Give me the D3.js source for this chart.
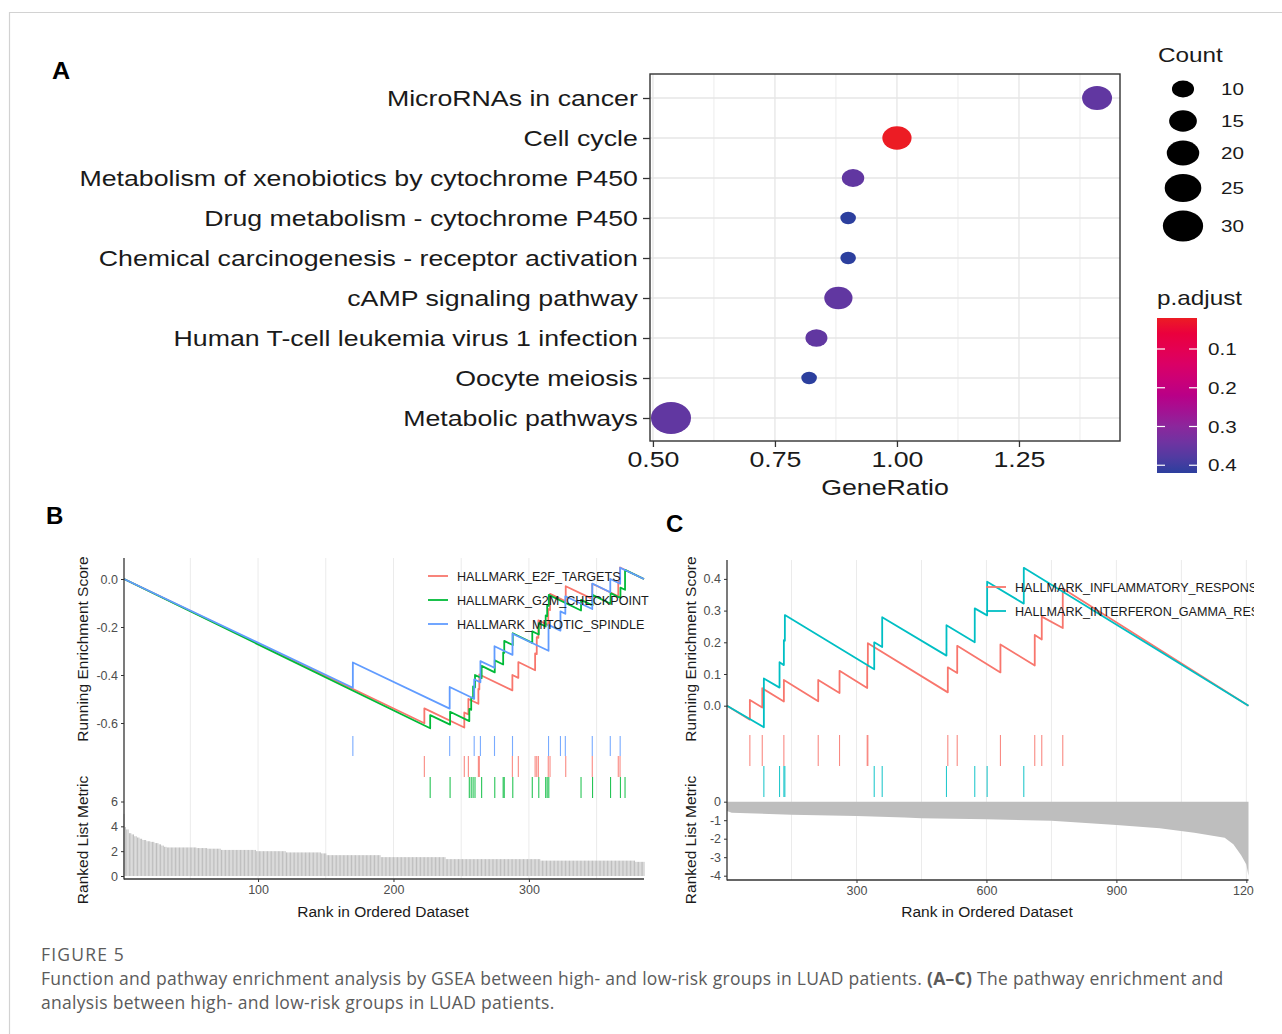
<!DOCTYPE html>
<html>
<head>
<meta charset="utf-8">
<script src="https://cdn.jsdelivr.net/npm/d3@7"></script>
<style>
body { margin: 0; background: #fff; }
svg text { font-family: "Liberation Sans", Arial, sans-serif; }
</style>
</head>
<body>
<svg id="fig" width="1282" height="1034"></svg>
<script>
// ---- panel A: dot plot ----
var pathways = ["MicroRNAs in cancer", "Cell cycle", "Metabolism of xenobiotics by cytochrome P450",
  "Drug metabolism - cytochrome P450", "Chemical carcinogenesis - receptor activation",
  "cAMP signaling pathway", "Human T-cell leukemia virus 1 infection", "Oocyte meiosis", "Metabolic pathways"]
var geneRatio = [1.41, 1.00, 0.91, 0.90, 0.90, 0.88, 0.835, 0.82, 0.537]
var geneCount = [18.5, 17.7, 11, 6, 6, 16.6, 10.6, 6, 32]
var pAdjust = [0.36, 0.02, 0.36, 0.42, 0.42, 0.36, 0.36, 0.42, 0.36]
var ratioTicks = [0.50, 0.75, 1.00, 1.25]
var countBreaks = [10, 15, 20, 25, 30]
var pTicks = [0.1, 0.2, 0.3, 0.4]

// ---- panel B: GSEA, 3 gene sets ----
var namesB = ["HALLMARK_E2F_TARGETS", "HALLMARK_G2M_CHECKPOINT", "HALLMARK_MITOTIC_SPINDLE"]
// ranked list metric, as [value, number of genes]
var rankedB = [[5.0,1],[3.95,1],[3.75,2],[3.45,2],[3.35,2],[3.2,2],[3.1,2],[3.0,2],[2.9,3],[2.8,3],
  [2.75,3],[2.65,3],[2.55,2],[2.45,2],[2.35,2],[2.3,22],[2.25,8],[2.2,10],[2.1,26],[2.0,22],
  [1.9,26],[1.82,4],[1.68,40],[1.52,48],[1.36,70],[1.24,70],[1.14,7]]
var hitsE2F = [222.8,252.3,255.3,262.7,263.4,287.8,292.2,304.6,305.8,307.0,314.3,315.6,327.2,346.8,366.0,367.3]
var hitsG2M = [227.1,241.8,256.0,257.4,258.8,260.2,265.1,274.8,281.0,281.8,288.1,302.5,307.3,312.4,313.5,314.7,338.5,347.0,360.3,367.6,371.0]
var hitsMIT = [170,241.5,259.6,264.2,274.6,287.9,314.5,323.3,326.9,346.8,360.1,367.4]
var esE2F = [[1,0],[222.8,-0.601],[222.8,-0.539],[252.3,-0.619],[252.3,-0.556],[255.3,-0.564],[255.3,-0.500],
  [262.7,-0.520],[262.7,-0.458],[263.4,-0.460],[263.4,-0.398],[287.8,-0.464],[287.8,-0.400],[292.2,-0.412],
  [292.2,-0.346],[304.6,-0.380],[304.6,-0.310],[305.8,-0.313],[305.8,-0.242],[307.0,-0.245],[307.0,-0.172],
  [314.3,-0.192],[314.3,-0.125],[315.6,-0.129],[315.6,-0.062],[327.2,-0.093],[327.2,-0.030],[346.8,-0.083],
  [346.8,-0.020],[366.0,-0.072],[366.0,-0.010],[367.3,-0.014],[367.3,0.048],[385,0]]
var esG2M = [[1,0],[227.1,-0.622],[227.1,-0.567],[241.8,-0.607],[241.8,-0.553],[256.0,-0.592],[256.0,-0.541],
  [257.4,-0.545],[257.4,-0.494],[258.8,-0.498],[258.8,-0.447],[260.2,-0.451],[260.2,-0.400],[265.1,-0.413],
  [265.1,-0.362],[274.8,-0.389],[274.8,-0.339],[281.0,-0.356],[281.0,-0.306],[281.8,-0.308],[281.8,-0.258],
  [288.1,-0.275],[288.1,-0.226],[302.5,-0.266],[302.5,-0.218],[307.3,-0.231],[307.3,-0.184],[312.4,-0.198],
  [312.4,-0.152],[313.5,-0.155],[313.5,-0.109],[314.7,-0.112],[314.7,-0.066],[338.5,-0.131],[338.5,-0.087],
  [347.0,-0.110],[347.0,-0.066],[360.3,-0.103],[360.3,-0.059],[367.6,-0.079],[367.6,-0.036],[371.0,-0.045],
  [371.0,0.038],[385,0]]
var esMIT = [[1,0],[170,-0.453],[170,-0.348],[241.5,-0.540],[241.5,-0.450],[259.6,-0.499],[259.6,-0.418],
  [264.2,-0.430],[264.2,-0.342],[274.6,-0.370],[274.6,-0.280],[287.9,-0.316],[287.9,-0.228],[314.5,-0.299],
  [314.5,-0.191],[323.3,-0.215],[323.3,-0.135],[326.9,-0.145],[326.9,-0.072],[346.8,-0.125],[346.8,-0.019],
  [360.1,-0.055],[360.1,0.0],[367.4,-0.020],[367.4,0.047],[385,0]]
var esTicksB = [0, -0.2, -0.4, -0.6]
var rankTicksB = [0, 2, 4, 6]
var xTicksB = [100, 200, 300]

// ---- panel C: GSEA, 2 gene sets ----
var namesC = ["HALLMARK_INFLAMMATORY_RESPONSE", "HALLMARK_INTERFERON_GAMMA_RESPONSE"]
var rankedC = [[1,-0.5],[12,-0.6],[150,-0.70],[300,-0.77],[411,-0.85],[450,-0.90],[600,-0.955],[750,-1.03],
  [900,-1.26],[1000,-1.44],[1080,-1.68],[1150,-1.95],[1170,-2.3],[1188,-2.9],[1200,-3.4],[1205,-4.0]]
var hitsINF = [53.8,82.4,132.3,211.6,260.8,324.7,326.2,510.8,532.5,632.3,711.5,727.7,776.2]
var hitsIFN = [86.1,122.3,132.3,134.6,340.9,359.3,507.7,573.0,601.6,686.2]
var esINF = [[1,0],[53.8,-0.044],[53.8,0.018],[82.4,-0.006],[82.4,0.055],[132.3,0.013],[132.3,0.081],
  [211.6,0.014],[211.6,0.081],[260.8,0.040],[260.8,0.110],[324.7,0.056],[324.7,0.125],[326.2,0.124],
  [326.2,0.197],[510.8,0.042],[510.8,0.121],[532.5,0.103],[532.5,0.189],[632.3,0.105],[632.3,0.193],
  [711.5,0.127],[711.5,0.223],[727.7,0.209],[727.7,0.281],[776.2,0.245],[776.2,0.370],[1205,0]]
var esIFN = [[1,0],[86.1,-0.068],[86.1,0.086],[122.3,0.057],[122.3,0.137],[132.3,0.128],[132.3,0.207],
  [134.6,0.205],[134.6,0.286],[340.9,0.115],[340.9,0.200],[359.3,0.185],[359.3,0.279],[507.7,0.158],
  [507.7,0.254],[573.0,0.200],[573.0,0.307],[601.6,0.285],[601.6,0.391],[686.2,0.322],[686.2,0.435],[1205,0]]
var esTicksC = [0, 0.1, 0.2, 0.3, 0.4]
var rankTicksC = [0, -1, -2, -3, -4]
var xTicksC = [300, 600, 900, 1200]

// plain hyphen for negatives, like the R output
function fmt(spec) {
  var f = d3.format(spec)
  return function(d){ return f(d).replace("\u2212", "-") }
}

var svg = d3.select("#fig")
svg.append("rect").attr("width", 1282).attr("height", 1034).attr("fill", "#fff")
svg.append("path").attr("d", "M9.5,1034V12.5H1282").attr("fill", "none").attr("stroke", "#d2d2d2").attr("stroke-width", 1.2)

// ================= panel A =================
var stretch = 1.215
var aTop = 74, aBot = 441, aLeft = 650, aRight = 1120
var ax = d3.scaleLinear().domain([0.494, 1.457]).range([aLeft, aRight])
var ay = d3.scalePoint().domain(pathways).range([98, 418])
var pCol = d3.scaleLinear().domain([0.02, 0.42]).range(["#ec1c24", "#2c3f9e"]).interpolate(d3.interpolateHcl)
var rSize = d3.scaleRadial().domain([10, 30]).range([8.5, 15.5])

var gA = svg.append("g")
var minorA = ratioTicks.map(function(t){ return t + 0.125 })
gA.selectAll(".minorA").data(minorA).enter().append("line")
  .attr("x1", ax).attr("x2", ax).attr("y1", aTop).attr("y2", aBot)
  .attr("stroke", "#ececec").attr("stroke-width", 1)
gA.selectAll(".majorA").data(ratioTicks).enter().append("line")
  .attr("x1", ax).attr("x2", ax).attr("y1", aTop).attr("y2", aBot)
  .attr("stroke", "#e6e6e6").attr("stroke-width", 1.3)
gA.selectAll(".hgridA").data(pathways).enter().append("line")
  .attr("x1", aLeft).attr("x2", aRight).attr("y1", ay).attr("y2", ay)
  .attr("stroke", "#e6e6e6").attr("stroke-width", 1.3)

var dotsA = pathways.map(function(d, i){ return {name: d, ratio: geneRatio[i], count: geneCount[i], p: pAdjust[i]} })
gA.selectAll(".dotA").data(dotsA).enter().append("ellipse")
  .attr("cx", function(d){ return ax(d.ratio) })
  .attr("cy", function(d){ return ay(d.name) })
  .attr("rx", function(d){ return rSize(d.count) * 1.25 })
  .attr("ry", function(d){ return rSize(d.count) })
  .attr("fill", function(d){ return pCol(d.p) })

gA.append("rect").attr("x", aLeft).attr("y", aTop).attr("width", aRight - aLeft).attr("height", aBot - aTop)
  .attr("fill", "none").attr("stroke", "#333").attr("stroke-width", 1.4)

var yAxA = gA.append("g").attr("transform", "translate(" + aLeft + ",0)")
  .call(d3.axisLeft(ay).tickSize(7).tickPadding(3))
yAxA.select(".domain").remove()
yAxA.selectAll("line").attr("stroke", "#333").attr("stroke-width", 1.3)
yAxA.selectAll("text").attr("font-size", 22).attr("fill", "#1a1a1a").attr("dy", "0.36em")
  .attr("transform", "scale(" + stretch + ",1)")

var xAxA = gA.append("g").attr("transform", "translate(0," + aBot + ")")
  .call(d3.axisBottom(ax).tickValues(ratioTicks).tickFormat(d3.format(".2f")).tickSize(6).tickPadding(4))
xAxA.select(".domain").remove()
xAxA.selectAll("line").attr("stroke", "#333").attr("stroke-width", 1.3)
xAxA.selectAll("text").attr("font-size", 22).attr("fill", "#1a1a1a")
  .attr("transform", "scale(" + stretch + ",1)")

gA.append("text").attr("transform", "translate(885,495) scale(" + stretch + ",1)")
  .attr("text-anchor", "middle").attr("font-size", 22).attr("fill", "#1a1a1a").text("GeneRatio")
gA.append("text").attr("transform", "translate(52,79) scale(1.05,1)")
  .attr("font-size", 24).attr("font-weight", "bold").text("A")

// size legend
gA.append("text").attr("transform", "translate(1158,62) scale(" + stretch + ",1)")
  .attr("font-size", 20).attr("fill", "#1a1a1a").text("Count")
var countPos = [89, 121, 153, 188, 226]
countBreaks.forEach(function(c, i){
  gA.append("ellipse").attr("cx", 1183).attr("cy", countPos[i])
    .attr("rx", rSize(c) * 1.3).attr("ry", rSize(c)).attr("fill", "#000")
  gA.append("text").attr("transform", "translate(1221," + (countPos[i] + 6) + ") scale(" + stretch + ",1)")
    .attr("font-size", 17).attr("fill", "#1a1a1a").text(c)
})

// colour bar
gA.append("text").attr("transform", "translate(1157,305) scale(" + stretch + ",1)")
  .attr("font-size", 20).attr("fill", "#1a1a1a").text("p.adjust")
var cb = d3.scaleLinear().domain([0.02, 0.42]).range([318, 473])
var grad = svg.append("defs").append("linearGradient").attr("id", "pgrad")
  .attr("x1", 0).attr("y1", 0).attr("x2", 0).attr("y2", 1)
d3.range(0, 1.001, 0.1).forEach(function(t){
  grad.append("stop").attr("offset", t).attr("stop-color", pCol(0.02 + t * 0.4))
})
gA.append("rect").attr("x", 1157).attr("y", 318).attr("width", 40).attr("height", 155).attr("fill", "url(#pgrad)")
pTicks.forEach(function(p){
  gA.append("line").attr("x1", 1157).attr("x2", 1165).attr("y1", cb(p)).attr("y2", cb(p)).attr("stroke", "#fff").attr("stroke-width", 1.2)
  gA.append("line").attr("x1", 1189).attr("x2", 1197).attr("y1", cb(p)).attr("y2", cb(p)).attr("stroke", "#fff").attr("stroke-width", 1.2)
  gA.append("text").attr("transform", "translate(1208," + (cb(p) + 6) + ") scale(" + stretch + ",1)")
    .attr("font-size", 17).attr("fill", "#1a1a1a").text(p.toFixed(1))
})

// ================= GSEA panels =================
function gseaPanel(g, c) {
  var x = d3.scaleLinear().domain([1, c.n]).range([c.x0, c.x1])
  var yEs = d3.scaleLinear().domain(c.esDomain).range(c.esRange)
  var yRank = d3.scaleLinear().domain(c.rankDomain).range(c.rankRange)

  g.selectAll(".grid").data(c.grid).enter().append("line")
    .attr("x1", x).attr("x2", x).attr("y1", c.top).attr("y2", c.axisY)
    .attr("stroke", "#ebebeb").attr("stroke-width", 1)

  // ranked list
  if (c.bars) {
    g.selectAll(".bar").data(c.bars).enter().append("rect")
      .attr("x", function(d, i){ return x(i + 1) - 0.5 }).attr("width", 1)
      .attr("y", function(d){ return yRank(d) }).attr("height", function(d){ return yRank(0) - yRank(d) })
      .attr("fill", "#bebebe")
  } else {
    g.append("path").datum(c.area)
      .attr("d", d3.area().x(function(d){ return x(d[0]) }).y0(yRank(0)).y1(function(d){ return yRank(d[1]) }))
      .attr("fill", "#bebebe")
  }

  // hit rugs
  c.series.forEach(function(s){
    g.selectAll(null).data(s.hits).enter().append("line")
      .attr("x1", x).attr("x2", x).attr("y1", s.row[0]).attr("y2", s.row[1])
      .attr("stroke", s.color).attr("stroke-opacity", 0.85).attr("stroke-width", 1.1)
  })

  // running ES
  var line = d3.line().x(function(d){ return x(d[0]) }).y(function(d){ return yEs(d[1]) })
  c.series.forEach(function(s){
    g.append("path").datum(s.es).attr("d", line).attr("fill", "none")
      .attr("stroke", s.color).attr("stroke-width", 1.8).attr("stroke-linejoin", "round")
  })

  // axes
  var yl = g.append("g").attr("transform", "translate(" + c.x0 + ",0)")
    .call(d3.axisLeft(yEs).tickValues(c.esTicks).tickFormat(fmt(".1f")).tickSize(3).tickPadding(3))
  var yr = g.append("g").attr("transform", "translate(" + c.x0 + ",0)")
    .call(d3.axisLeft(yRank).tickValues(c.rankTicks).tickFormat(fmt("d")).tickSize(3).tickPadding(3))
  var xb = g.append("g").attr("transform", "translate(0," + c.axisY + ")")
    .call(d3.axisBottom(x).tickValues(c.xTicks).tickFormat(fmt("d")).tickSize(3).tickPadding(3))
  ;[yl, yr, xb].forEach(function(a){
    a.select(".domain").remove()
    a.selectAll("line").attr("stroke", "#333")
    a.selectAll("text").attr("font-size", 12.5).attr("fill", "#4d4d4d")
  })
  g.append("line").attr("x1", c.x0).attr("x2", c.x0).attr("y1", c.top).attr("y2", c.axisY + 0.6)
    .attr("stroke", "#333").attr("stroke-width", 1.3)
  g.append("line").attr("x1", c.x0).attr("x2", c.x1).attr("y1", c.axisY).attr("y2", c.axisY)
    .attr("stroke", "#333").attr("stroke-width", 1.3)

  // titles
  g.append("text").attr("transform", "translate(" + c.titleX + ",649) rotate(-90)")
    .attr("text-anchor", "middle").attr("font-size", 15.5).attr("fill", "#1a1a1a").text("Running Enrichment Score")
  g.append("text").attr("transform", "translate(" + c.titleX + ",840) rotate(-90)")
    .attr("text-anchor", "middle").attr("font-size", 15.5).attr("fill", "#1a1a1a").text("Ranked List Metric")
  g.append("text").attr("x", c.xTitle).attr("y", 917)
    .attr("text-anchor", "middle").attr("font-size", 15.5).attr("fill", "#1a1a1a").text("Rank in Ordered Dataset")

  // legend
  c.series.forEach(function(s, i){
    var ly = c.legend.y[i]
    g.append("line").attr("x1", c.legend.x).attr("x2", c.legend.x + 20).attr("y1", ly).attr("y2", ly)
      .attr("stroke", s.color).attr("stroke-width", 1.8)
    g.append("text").attr("x", c.legend.x + 29).attr("y", ly + 5)
      .attr("font-size", 12.6).attr("fill", "#1a1a1a").text(s.name)
  })
}

var barsB = []
rankedB.forEach(function(d){ for (var k = 0; k < d[1]; k++) barsB.push(d[0]) })

var gB = svg.append("g")
gseaPanel(gB, {
  n: barsB.length, x0: 124, x1: 644, top: 558, axisY: 879,
  esDomain: [0, -0.6], esRange: [579, 723], esTicks: esTicksB,
  rankDomain: [0, 6], rankRange: [876, 801.5], rankTicks: rankTicksB,
  xTicks: xTicksB, grid: [50, 100, 150, 200, 250, 300, 350],
  bars: barsB, titleX: 88, xTitle: 383,
  legend: {x: 428, y: [576, 600, 624]},
  series: [
    {name: namesB[0], color: "#F8766D", es: esE2F, hits: hitsE2F, row: [756, 777]},
    {name: namesB[1], color: "#00BA38", es: esG2M, hits: hitsG2M, row: [777, 798]},
    {name: namesB[2], color: "#619CFF", es: esMIT, hits: hitsMIT, row: [736, 756]}
  ]
})
gB.append("text").attr("x", 46).attr("y", 524).attr("font-size", 24).attr("font-weight", "bold").text("B")

svg.append("defs").append("clipPath").attr("id", "clipC")
  .append("rect").attr("x", 640).attr("y", 500).attr("width", 614).attr("height", 430)
var gC = svg.append("g").attr("clip-path", "url(#clipC)")
gseaPanel(gC, {
  n: 1205, x0: 727, x1: 1248.5, top: 560, axisY: 880,
  esDomain: [0, 0.4], esRange: [705.7, 578.9], esTicks: esTicksC,
  rankDomain: [0, -4], rankRange: [801.7, 875.7], rankTicks: rankTicksC,
  xTicks: xTicksC, grid: [150, 300, 450, 600, 750, 900, 1050, 1200],
  area: rankedC, titleX: 696, xTitle: 987,
  legend: {x: 986, y: [587, 611]},
  series: [
    {name: namesC[0], color: "#F8766D", es: esINF, hits: hitsINF, row: [735, 766]},
    {name: namesC[1], color: "#00BFC4", es: esIFN, hits: hitsIFN, row: [766, 797]}
  ]
})
svg.append("text").attr("x", 666).attr("y", 532).attr("font-size", 24).attr("font-weight", "bold").text("C")

// ================= caption =================
var capFont = "'Open Sans', 'Noto Sans', sans-serif"
var cap = svg.append("g").attr("fill", "#5b5b5b")
cap.append("text").attr("x", 41).attr("y", 961).attr("font-size", 17.5).attr("letter-spacing", 1.2)
  .style("font-family", capFont).text("FIGURE 5")
var l1 = cap.append("text").attr("x", 41).attr("y", 985).attr("font-size", 17.5).attr("letter-spacing", 0.3)
  .style("font-family", capFont)
l1.append("tspan").text("Function and pathway enrichment analysis by GSEA between high- and low-risk groups in LUAD patients. ")
l1.append("tspan").attr("font-weight", "bold").text("(A\u2013C)")
l1.append("tspan").text(" The pathway enrichment and")
cap.append("text").attr("x", 41).attr("y", 1009).attr("font-size", 17.5).attr("letter-spacing", 0.3)
  .style("font-family", capFont)
  .text("analysis between high- and low-risk groups in LUAD patients.")
</script>
</body>
</html>
